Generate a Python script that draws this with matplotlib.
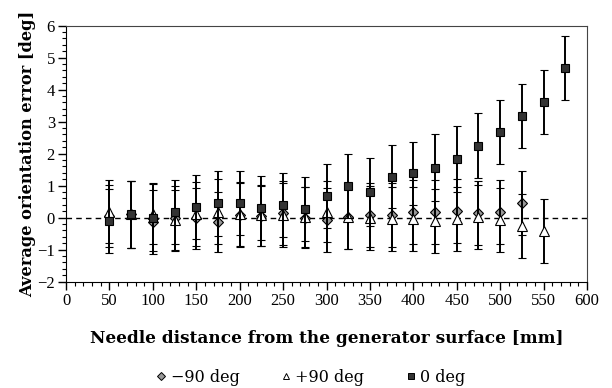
import matplotlib
matplotlib.use("Agg")
import matplotlib.pyplot as plt
from matplotlib.ticker import MultipleLocator
from matplotlib.lines import Line2D

# distances [mm]
x_m90 = [50, 75, 100, 125, 150, 175, 200, 225, 250, 275, 300, 325, 350, 375, 400, 425, 450, 475, 500, 525]
x_p90 = [50, 75, 100, 125, 150, 175, 200, 225, 250, 275, 300, 325, 350, 375, 400, 425, 450, 475, 500, 525, 550]
x_0 = [50, 75, 100, 125, 150, 175, 200, 225, 250, 275, 300, 325, 350, 375, 400, 425, 450, 475, 500, 525, 550, 575]

# -90 deg series
y_m90 = [0.05, 0.10, -0.13, 0.00, -0.02, -0.13, 0.08, 0.05, 0.16, 0.00, -0.08, 0.03, 0.07, 0.07, 0.18, 0.19, 0.21, 0.16, 0.18, 0.45]
e_m90 = [0.98, 1.05, 1.00, 1.00, 0.95, 0.94, 1.00, 0.95, 1.00, 0.95, 1.00, 1.00, 1.00, 1.00, 1.00, 1.00, 1.00, 1.00, 1.00, 1.00]

# +90 deg series
y_p90 = [0.19, 0.10, 0.12, -0.08, 0.12, 0.19, 0.10, 0.07, 0.07, 0.02, 0.19, 0.03, 0.00, -0.05, -0.05, -0.10, -0.03, 0.02, -0.08, -0.26, -0.42]
e_p90 = [0.98, 1.05, 0.95, 0.95, 1.00, 1.02, 1.00, 0.95, 1.00, 0.95, 0.95, 1.00, 1.00, 1.00, 1.00, 1.00, 1.00, 1.00, 1.00, 1.00, 1.00]

# 0 deg series
y_0 = [-0.10, 0.10, 0.00, 0.18, 0.34, 0.45, 0.46, 0.30, 0.39, 0.28, 0.67, 1.00, 0.81, 1.28, 1.38, 1.56, 1.84, 2.25, 2.68, 3.18, 3.62, 4.68]
e_0 = [1.00, 1.05, 1.05, 1.00, 1.00, 1.02, 1.00, 1.00, 1.00, 1.00, 1.00, 1.00, 1.06, 0.98, 0.99, 1.04, 1.03, 1.02, 1.00, 1.00, 1.00, 1.00]

xticks = list(range(0, 601, 50))
yticks = list(range(-2, 7))
legend_labels = ['\u221290 deg', '+90 deg', '0 deg']

plt.rcParams['font.family'] = ['Liberation Serif', 'DejaVu Serif']
plt.rcParams['axes.unicode_minus'] = True

fig = plt.figure(figsize=(6.12, 3.88), dpi=100)
ax = fig.add_axes([0.108, 0.274, 0.851, 0.66])

ax.axhline(0, color='black', lw=1.0, ls=(0, (4, 3)), zorder=1)

common = dict(ls='none', capsize=3, elinewidth=1.4, capthick=1.2, ecolor='black', markeredgecolor='black', markeredgewidth=0.8)
ax.errorbar(x_m90, y_m90, yerr=e_m90, marker='D', markersize=5.5, markerfacecolor='#999999', zorder=3, **common)
ax.errorbar(x_p90, y_p90, yerr=e_p90, marker='^', markersize=7, markerfacecolor='white', zorder=4, **common)
ax.errorbar(x_0, y_0, yerr=e_0, marker='s', markersize=6, markerfacecolor='#333333', zorder=5, **common)

ax.set_xlim(0, 600)
ax.set_ylim(-2, 6)
ax.set_xticks(xticks)
ax.set_yticks(yticks)
ax.xaxis.set_minor_locator(MultipleLocator(10))
ax.yaxis.set_minor_locator(MultipleLocator(0.2))
ax.tick_params(which='major', direction='out', length=6, width=1.0, labelsize=12, pad=2)
ax.tick_params(which='minor', direction='out', length=3, width=0.8)
for s in ['top', 'right']:
    ax.spines[s].set_color('#444444')

ax.set_xlabel('Needle distance from the generator surface [mm]', fontsize=12.2, fontweight='bold',
              family='DejaVu Serif', labelpad=15)
ax.set_ylabel('Average orientation error [deg]', fontsize=11.7, fontweight='bold',
              family='DejaVu Serif', labelpad=1)

lh = [Line2D([], [], ls='none', marker='D', markersize=4.5, markerfacecolor='#999999', markeredgecolor='black', markeredgewidth=0.7),
      Line2D([], [], ls='none', marker='^', markersize=5, markerfacecolor='white', markeredgecolor='black', markeredgewidth=0.7),
      Line2D([], [], ls='none', marker='s', markersize=5, markerfacecolor='#333333', markeredgecolor='black', markeredgewidth=0.7)]
fig.legend(lh, legend_labels, loc='center',
           bbox_to_anchor=(0.508, 0.028), ncol=3, frameon=False,
           prop={'family': 'DejaVu Serif', 'size': 11.5},
           handlelength=0.6, handletextpad=0.3, columnspacing=2.6)

fig.savefig('out.png', dpi=100)
